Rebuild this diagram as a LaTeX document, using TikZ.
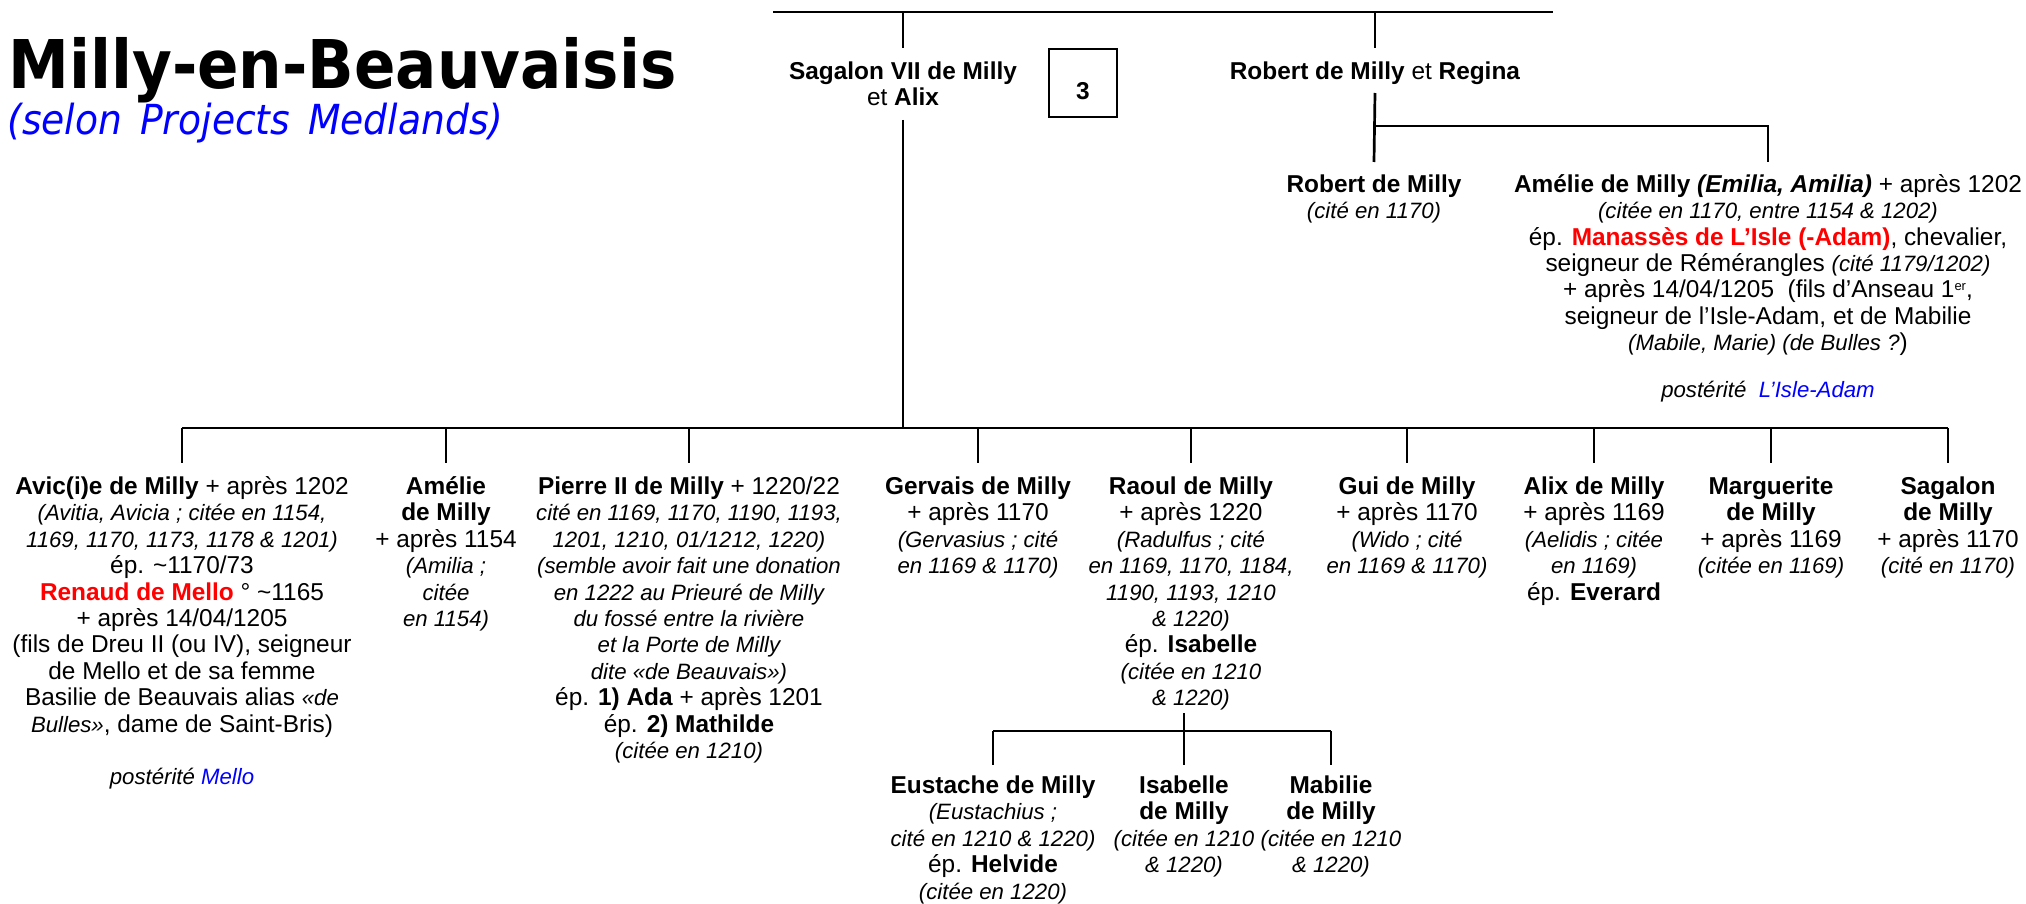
\documentclass[tikz,border=0pt]{standalone}
\usepackage{fontspec}
\setmainfont{Liberation Sans}
\newfontfamily\titlefont[FakeStretch=0.91]{DejaVu Sans}
\definecolor{pblue}{RGB}{0,0,255}
\definecolor{pred}{RGB}{255,0,0}
\newcommand\ita[1]{{\fontsize{11.1}{13.2}\selectfont\itshape #1}}
\newcommand\nm[1]{\textbf{#1}}
\newcommand\fl{\rule{0pt}{10pt}}
\newcommand\supsm[1]{\raisebox{4pt}{\fontsize{6.5}{7}\selectfont #1}}
\tikzset{
  person/.style={align=center, inner sep=0pt, anchor=north, font=\fontsize{12.2}{13.2}\selectfont},
  link/.style={line width=1.35pt},
  numbox/.style={draw, line width=0.7pt, minimum width=34pt, minimum height=34pt, inner sep=0pt}
}
\begin{document}
\begin{tikzpicture}[x=0.5pt,y=-0.5pt]
\useasboundingbox (0,0) rectangle (2026,904);
% title
\node (title) [anchor=base west, inner sep=0pt] at (8,89) {\titlefont\bfseries\fontsize{33.6}{40}\selectfont Milly-en-Beauvaisis};
\node (sub) [anchor=base west, inner sep=0pt, text=pblue] at (7,134.5) {\titlefont\itshape\fontsize{20.7}{24}\selectfont (selon\hspace{3pt} Projects\hspace{3pt} Medlands)};
% helper levels
\coordinate (topL) at (773,12);
\coordinate (topR) at (1553,12);
\coordinate (upbot) at (0,48);
\coordinate (sagd) at (0,120);
\coordinate (rb1) at (0,93);
\coordinate (rbh) at (0,126);
\coordinate (rbe) at (0,162);
\coordinate (bar) at (0,428);
\coordinate (kid) at (0,463);
\coordinate (rd1) at (0,713);
\coordinate (rdh) at (0,731);
\coordinate (rde) at (0,765);
% top generation
\node (sag) [person] at (903,59) {\fl\nm{Sagalon VII de Milly}\\et \nm{Alix}};
\node (box3) [numbox] at (1083,83) {};
\node (three) [person, anchor=base] at (1083,100) {\nm{3}};
\node (rob) [person] at (1375,59) {\fl\nm{Robert de Milly} et \nm{Regina}};
\node (robj) [person] at (1374,172) {\fl\nm{Robert de Milly}\\\ita{(cité en 1170)}};
\node (amel) [person] at (1768,172) {\fl\nm{Amélie de Milly \textit{(Emilia, Amilia)}} + après 1202\\
\ita{(citée en 1170, entre 1154 \& 1202)}\\
ép. {\color{pred}\nm{Manassès de L’Isle (-Adam)}}, chevalier,\\
seigneur de Rémérangles \ita{(cité 1179/1202)}\\
+ après 14/04/1205\ \ (fils d’Anseau 1\supsm{er},\\
seigneur de l’Isle-Adam, et de Mabilie\\
\ita{(Mabile, Marie) (de Bulles ?})\\[10.3pt]
\ita{postérité\ \ {\color{pblue}L’Isle-Adam}}};
% children of Sagalon
\node (avic) [person] at (182,474) {\fl\nm{Avic(i)e de Milly} + après 1202\\
\ita{(Avitia, Avicia ; citée en 1154,}\\
\ita{1169, 1170, 1173, 1178 \& 1201)}\\
ép. \textasciitilde1170/73\\
{\color{pred}\nm{Renaud de Mello}} ° \textasciitilde1165\\
+ après 14/04/1205\\
(fils de Dreu II (ou IV), seigneur\\
de Mello et de sa femme\\
Basilie de Beauvais alias \ita{«de}\\
\ita{Bulles»}, dame de Saint-Bris)\\[12.8pt]
\ita{postérité {\color{pblue}Mello}}};
\node (ameli) [person] at (446,474) {\fl\nm{Amélie}\\\nm{de Milly}\\+ après 1154\\\ita{(Amilia ;}\\\ita{citée}\\\ita{en 1154)}};
\node (pierre) [person] at (689,474) {\fl\nm{Pierre II de Milly} + 1220/22\\
\ita{cité en 1169, 1170, 1190, 1193,}\\
\ita{1201, 1210, 01/1212, 1220)}\\
\ita{(semble avoir fait une donation}\\
\ita{en 1222 au Prieuré de Milly}\\
\ita{du fossé entre la rivière}\\
\ita{et la Porte de Milly}\\
\ita{dite «de Beauvais»)}\\
ép. \nm{1) Ada} + après 1201\\
ép. \nm{2) Mathilde}\\
\ita{(citée en 1210)}};
\node (gerv) [person] at (978,474) {\fl\nm{Gervais de Milly}\\+ après 1170\\\ita{(Gervasius ; cité}\\\ita{en 1169 \& 1170)}};
\node (raoul) [person] at (1191,474) {\fl\nm{Raoul de Milly}\\+ après 1220\\\ita{(Radulfus ; cité}\\\ita{en 1169, 1170, 1184,}\\\ita{1190, 1193, 1210}\\\ita{\& 1220)}\\ép. \nm{Isabelle}\\\ita{(citée en 1210}\\\ita{\& 1220)}};
\node (gui) [person] at (1407,474) {\fl\nm{Gui de Milly}\\+ après 1170\\\ita{(Wido ; cité}\\\ita{en 1169 \& 1170)}};
\node (alix) [person] at (1594,474) {\fl\nm{Alix de Milly}\\+ après 1169\\\ita{(Aelidis ; citée}\\\ita{en 1169)}\\ép. \nm{Everard}};
\node (marg) [person] at (1771,474) {\fl\nm{Marguerite}\\\nm{de Milly}\\+ après 1169\\\ita{(citée en 1169)}};
\node (sagj) [person] at (1948,474) {\fl\nm{Sagalon}\\\nm{de Milly}\\+ après 1170\\\ita{(cité en 1170)}};
% children of Raoul
\node (eust) [person] at (993,773) {\fl\nm{Eustache de Milly}\\\ita{(Eustachius ;}\\\ita{cité en 1210 \& 1220)}\\ép. \nm{Helvide}\\\ita{(citée en 1220)}};
\node (isab) [person] at (1184,773) {\fl\nm{Isabelle}\\\nm{de Milly}\\\ita{(citée en 1210}\\\ita{\& 1220)}};
\node (mab) [person] at (1331,773) {\fl\nm{Mabilie}\\\nm{de Milly}\\\ita{(citée en 1210}\\\ita{\& 1220)}};
% connectors
\draw[link] (topL) -- (topR);
\draw[link] (sag |- topL) -- (sag |- upbot);
\draw[link] (rob |- topL) -- (rob |- upbot);
\draw[link] (rob |- rb1) -- (robj |- rbe);
\draw[link] (rob |- rbh) -- (amel |- rbh) -- (amel |- rbe);
\draw[link] (sag |- sagd) -- (sag |- bar);
\draw[link] (avic |- bar) -- (sagj |- bar);
\foreach \c in {avic,ameli,pierre,gerv,raoul,gui,alix,marg,sagj}
  \draw[link] (\c |- bar) -- (\c |- kid);
\draw[link] (isab |- rd1) -- (isab |- rde);
\draw[link] (eust |- rdh) -- (mab |- rdh);
\draw[link] (eust |- rdh) -- (eust |- rde);
\draw[link] (mab |- rdh) -- (mab |- rde);
\end{tikzpicture}
\end{document}
